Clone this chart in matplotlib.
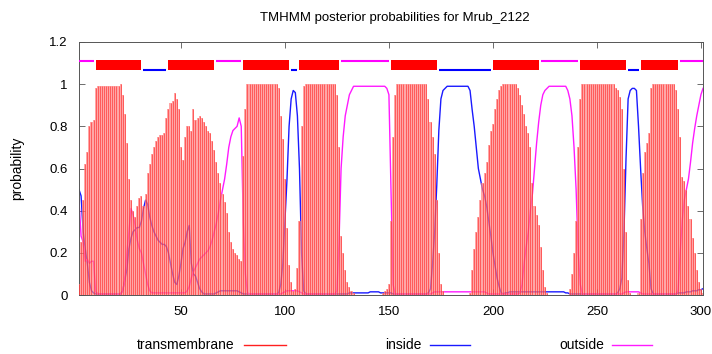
import matplotlib
matplotlib.use("Agg")
import matplotlib.pyplot as plt
from matplotlib.lines import Line2D

plt.rcParams["font.family"] = ["Liberation Sans Narrow", "Liberation Sans", "DejaVu Sans"]

title = "TMHMM posterior probabilities for Mrub_2122"
residues = list(range(1, 302))

# posterior probabilities per residue
transmembrane = [
    0.05, 0.25, 0.45, 0.62, 0.68, 0.80, 0.82, 0.83, 0.98, 0.99,
    0.99, 0.99, 0.99, 0.99, 0.99, 0.99, 0.99, 0.99, 0.99, 0.99,
    1.00, 0.95, 0.86, 0.72, 0.55, 0.45, 0.40, 0.37, 0.42, 0.46,
    0.47, 0.42, 0.48, 0.58, 0.62, 0.67, 0.70, 0.73, 0.75, 0.76,
    0.76, 0.77, 0.84, 0.88, 0.91, 0.92, 0.96, 0.93, 0.88, 0.70,
    0.64, 0.75, 0.80, 0.80, 0.78, 0.88, 0.83, 0.84, 0.85, 0.84,
    0.82, 0.80, 0.78, 0.77, 0.73, 0.69, 0.63, 0.58, 0.53, 0.48,
    0.44, 0.39, 0.30, 0.25, 0.22, 0.20, 0.19, 0.17, 0.16, 0.66,
    0.88, 1.00, 1.00, 1.00, 1.00, 1.00, 1.00, 1.00, 1.00, 1.00,
    1.00, 1.00, 1.00, 1.00, 1.00, 1.00, 0.98, 0.85, 0.74, 0.55,
    0.32, 0.14, 0.06, 0.02, 0.03, 0.13, 0.35, 0.80, 0.99, 1.00,
    1.00, 1.00, 1.00, 1.00, 1.00, 1.00, 1.00, 1.00, 1.00, 1.00,
    1.00, 1.00, 1.00, 1.00, 0.95, 0.70, 0.28, 0.20, 0.12, 0.06,
    0.04, 0.02, 0.01, 0.00, 0.00, 0.00, 0.00, 0.00, 0.00, 0.00,
    0.00, 0.00, 0.00, 0.00, 0.00, 0.00, 0.01, 0.02, 0.03, 0.05,
    0.35, 0.75, 0.95, 1.00, 1.00, 1.00, 1.00, 1.00, 1.00, 1.00,
    1.00, 1.00, 1.00, 1.00, 1.00, 1.00, 1.00, 1.00, 0.93, 0.82,
    0.75, 0.67, 0.45, 0.20, 0.05, 0.02, 0.00, 0.00, 0.00, 0.00,
    0.00, 0.00, 0.00, 0.00, 0.00, 0.00, 0.00, 0.00, 0.01, 0.12,
    0.22, 0.30, 0.37, 0.45, 0.53, 0.58, 0.63, 0.71, 0.78, 0.81,
    0.88, 0.93, 0.97, 0.99, 1.00, 1.00, 1.00, 1.00, 1.00, 1.00,
    1.00, 0.98, 0.95, 0.90, 0.86, 0.80, 0.77, 0.70, 0.53, 0.42,
    0.38, 0.33, 0.23, 0.12, 0.04, 0.01, 0.00, 0.00, 0.00, 0.00,
    0.00, 0.00, 0.00, 0.00, 0.00, 0.00, 0.03, 0.10, 0.20, 0.35,
    0.70, 0.93, 1.00, 1.00, 1.00, 1.00, 1.00, 1.00, 1.00, 1.00,
    1.00, 1.00, 1.00, 1.00, 1.00, 1.00, 1.00, 1.00, 0.98, 0.97,
    0.94, 0.88, 0.60, 0.30, 0.07, 0.01, 0.00, 0.00, 0.00, 0.01,
    0.36, 0.58, 0.68, 0.72, 0.77, 0.98, 1.00, 1.00, 1.00, 1.00,
    1.00, 1.00, 1.00, 1.00, 1.00, 1.00, 1.00, 0.97, 0.88, 0.75,
    0.56, 0.54, 0.50, 0.42, 0.36, 0.27, 0.20, 0.12, 0.06, 0.03,
    0.01,
]

inside = [
    0.50, 0.47, 0.30, 0.22, 0.15, 0.06, 0.02, 0.01, 0.005, 0.005,
    0.005, 0.005, 0.005, 0.005, 0.005, 0.005, 0.005, 0.005, 0.005, 0.005,
    0.005, 0.02, 0.07, 0.12, 0.22, 0.27, 0.30, 0.31, 0.32, 0.32,
    0.35, 0.41, 0.45, 0.43, 0.37, 0.33, 0.30, 0.28, 0.26, 0.25,
    0.24, 0.24, 0.23, 0.20, 0.15, 0.10, 0.06, 0.05, 0.09, 0.15,
    0.22, 0.25, 0.30, 0.33, 0.15, 0.10, 0.09, 0.06, 0.03, 0.015,
    0.005, 0.005, 0.005, 0.005, 0.005, 0.005, 0.01, 0.015, 0.02, 0.02,
    0.02, 0.02, 0.02, 0.02, 0.02, 0.02, 0.02, 0.015, 0.01, 0.005,
    0.005, 0.005, 0.005, 0.005, 0.005, 0.005, 0.005, 0.005, 0.005, 0.005,
    0.005, 0.005, 0.005, 0.005, 0.005, 0.005, 0.01, 0.05, 0.15, 0.35,
    0.55, 0.80, 0.93, 0.97, 0.96, 0.85, 0.60, 0.20, 0.02, 0.005,
    0.005, 0.005, 0.005, 0.005, 0.005, 0.005, 0.005, 0.005, 0.005, 0.005,
    0.005, 0.005, 0.005, 0.005, 0.005, 0.005, 0.005, 0.005, 0.005, 0.005,
    0.01, 0.01, 0.01, 0.01, 0.01, 0.01, 0.01, 0.01, 0.01, 0.01,
    0.015, 0.015, 0.015, 0.015, 0.015, 0.01, 0.01, 0.01, 0.01, 0.01,
    0.01, 0.005, 0.005, 0.005, 0.005, 0.005, 0.005, 0.005, 0.005, 0.005,
    0.005, 0.005, 0.005, 0.005, 0.005, 0.005, 0.005, 0.005, 0.01, 0.03,
    0.15, 0.30, 0.52, 0.78, 0.93, 0.97, 0.98, 0.99, 0.99, 0.99,
    0.99, 0.99, 0.99, 0.99, 0.99, 0.99, 0.99, 0.99, 0.97, 0.88,
    0.80, 0.70, 0.60, 0.55, 0.50, 0.47, 0.42, 0.35, 0.28, 0.20,
    0.14, 0.08, 0.04, 0.01, 0.005, 0.01, 0.01, 0.015, 0.015, 0.015,
    0.015, 0.015, 0.015, 0.015, 0.015, 0.015, 0.015, 0.015, 0.015, 0.015,
    0.015, 0.015, 0.015, 0.015, 0.015, 0.015, 0.015, 0.015, 0.015, 0.015,
    0.015, 0.015, 0.015, 0.015, 0.01, 0.01, 0.005, 0.005, 0.005, 0.005,
    0.005, 0.005, 0.005, 0.005, 0.005, 0.005, 0.005, 0.005, 0.005, 0.005,
    0.005, 0.005, 0.005, 0.005, 0.005, 0.005, 0.005, 0.005, 0.005, 0.01,
    0.03, 0.08, 0.30, 0.65, 0.93, 0.97, 0.98, 0.98, 0.97, 0.80,
    0.60, 0.42, 0.30, 0.22, 0.15, 0.03, 0.005, 0.005, 0.005, 0.005,
    0.005, 0.005, 0.005, 0.005, 0.005, 0.005, 0.005, 0.005, 0.01, 0.01,
    0.01, 0.01, 0.015, 0.015, 0.015, 0.02, 0.02, 0.02, 0.025, 0.025,
    0.03,
]

outside = [
    0.45, 0.28, 0.25, 0.16, 0.17, 0.15, 0.16, 0.16, 0.015, 0.007,
    0.005, 0.005, 0.005, 0.005, 0.005, 0.005, 0.005, 0.005, 0.005, 0.005,
    0.005, 0.02, 0.07, 0.20, 0.30, 0.41, 0.38, 0.33, 0.26, 0.22,
    0.20, 0.15, 0.10, 0.05, 0.02, 0.01, 0.01, 0.01, 0.01, 0.01,
    0.01, 0.01, 0.01, 0.01, 0.01, 0.01, 0.01, 0.01, 0.01, 0.01,
    0.01, 0.01, 0.02, 0.04, 0.08, 0.11, 0.13, 0.15, 0.17, 0.18,
    0.19, 0.20, 0.21, 0.23, 0.26, 0.30, 0.34, 0.39, 0.45, 0.50,
    0.55, 0.62, 0.70, 0.75, 0.78, 0.79, 0.80, 0.84, 0.80, 0.34,
    0.10, 0.01, 0.005, 0.005, 0.005, 0.005, 0.005, 0.005, 0.005, 0.005,
    0.005, 0.005, 0.005, 0.005, 0.005, 0.005, 0.005, 0.005, 0.01, 0.015,
    0.02, 0.02, 0.02, 0.02, 0.02, 0.02, 0.015, 0.01, 0.005, 0.005,
    0.005, 0.005, 0.005, 0.005, 0.005, 0.005, 0.005, 0.005, 0.005, 0.005,
    0.005, 0.005, 0.005, 0.005, 0.02, 0.25, 0.60, 0.75, 0.85, 0.90,
    0.95, 0.97, 0.99, 0.99, 0.99, 0.99, 0.99, 0.99, 0.99, 0.99,
    0.99, 0.99, 0.99, 0.99, 0.99, 0.99, 0.99, 0.99, 0.98, 0.95,
    0.50, 0.05, 0.005, 0.005, 0.005, 0.005, 0.005, 0.005, 0.005, 0.005,
    0.005, 0.005, 0.005, 0.005, 0.005, 0.005, 0.005, 0.005, 0.005, 0.005,
    0.01, 0.015, 0.015, 0.015, 0.015, 0.015, 0.015, 0.015, 0.015, 0.015,
    0.015, 0.015, 0.015, 0.015, 0.015, 0.015, 0.015, 0.015, 0.015, 0.015,
    0.015, 0.015, 0.015, 0.015, 0.015, 0.015, 0.01, 0.005, 0.005, 0.005,
    0.005, 0.005, 0.005, 0.005, 0.005, 0.005, 0.005, 0.005, 0.005, 0.005,
    0.005, 0.005, 0.01, 0.05, 0.15, 0.23, 0.30, 0.40, 0.48, 0.60,
    0.72, 0.82, 0.90, 0.95, 0.97, 0.98, 0.99, 0.99, 0.99, 0.99,
    0.99, 0.99, 0.99, 0.99, 0.99, 0.97, 0.93, 0.85, 0.70, 0.50,
    0.20, 0.05, 0.005, 0.005, 0.005, 0.005, 0.005, 0.005, 0.005, 0.005,
    0.005, 0.005, 0.005, 0.005, 0.005, 0.005, 0.005, 0.005, 0.005, 0.005,
    0.005, 0.005, 0.01, 0.015, 0.015, 0.015, 0.015, 0.015, 0.015, 0.015,
    0.01, 0.005, 0.005, 0.005, 0.005, 0.005, 0.005, 0.005, 0.005, 0.005,
    0.005, 0.005, 0.005, 0.005, 0.005, 0.005, 0.005, 0.005, 0.02, 0.20,
    0.35, 0.45, 0.50, 0.55, 0.63, 0.72, 0.79, 0.85, 0.90, 0.95,
    0.98,
]

# predicted topology (first, last residue)
tm_segments = [(9, 31), (44, 66), (80, 102), (107, 126), (151, 173),
               (200, 222), (242, 264), (271, 289)]
inside_segments = [(32, 43), (103, 106), (174, 199), (265, 270)]
outside_segments = [(1, 8), (67, 79), (127, 150), (223, 241), (290, 301)]

x_ticks = [50, 100, 150, 200, 250, 300]
y_ticks = [0, 0.2, 0.4, 0.6, 0.8, 1.0, 1.2]
y_labels = ["0", "0.2", "0.4", "0.6", "0.8", "1", "1.2"]

legend_names = ["transmembrane", "inside", "outside"]
red, blue, magenta = "#ff2020", "#1a1aff", "#ff1aff"

W, H = 712, 354
fig = plt.figure(figsize=(W / 100, H / 100), dpi=100)
ax = fig.add_axes([79 / W, 1 - 295 / H, 624 / W, 253 / H])

ax.plot(residues, inside, color=blue, lw=1.0, zorder=2)
ax.plot(residues, outside, color=magenta, lw=1.0, zorder=2)
# impulses: pale red fill with darker red strokes, lines show through
ax.bar(residues, transmembrane, width=1.0, color="#ff8080", alpha=0.7, lw=0, zorder=3)
ax.vlines(residues, 0, transmembrane, color=red, lw=0.5, alpha=0.8, zorder=3)

for a, b in tm_segments:
    ax.fill_between([a, b], 1.067, 1.115, color="red", lw=0, zorder=4)
for a, b in inside_segments:
    ax.plot([a, b], [1.067, 1.067], color="blue", lw=1.5, solid_capstyle="butt", zorder=4)
for a, b in outside_segments:
    ax.plot([a, b], [1.111, 1.111], color="magenta", lw=1.5, solid_capstyle="butt", zorder=4)

ax.set_xlim(1, 301)
ax.set_ylim(0, 1.2)
ax.set_xticks(x_ticks)
ax.set_yticks(y_ticks)
ax.set_yticklabels(y_labels)
ax.tick_params(direction="in", top=True, right=True, length=4, width=0.6,
               color="#555555", labelsize=9.5, pad=8)
for sp in ax.spines.values():
    sp.set_color("#555555")
    sp.set_linewidth(0.7)

fig.text(395 / W, 1 - 18 / H, title, ha="center", va="center", fontsize=9.5)
fig.text(17 / W, 1 - 168 / H, "probability", rotation=90, ha="center", va="center", fontsize=10)

# legend below the plot: label then line sample
legend_text_x = [234, 422, 604]
legend_line_x = [(244, 286), (430, 470), (612, 652)]
for name, tx, (l0, l1), c in zip(legend_names, legend_text_x, legend_line_x, [red, blue, magenta]):
    fig.text(tx / W, 1 - 345 / H, name, ha="right", va="center", fontsize=10)
    fig.add_artist(Line2D([l0 / W, l1 / W], [1 - 345 / H, 1 - 345 / H],
                          transform=fig.transFigure, color=c, lw=1.0))

fig.savefig("out.png", dpi=100)
